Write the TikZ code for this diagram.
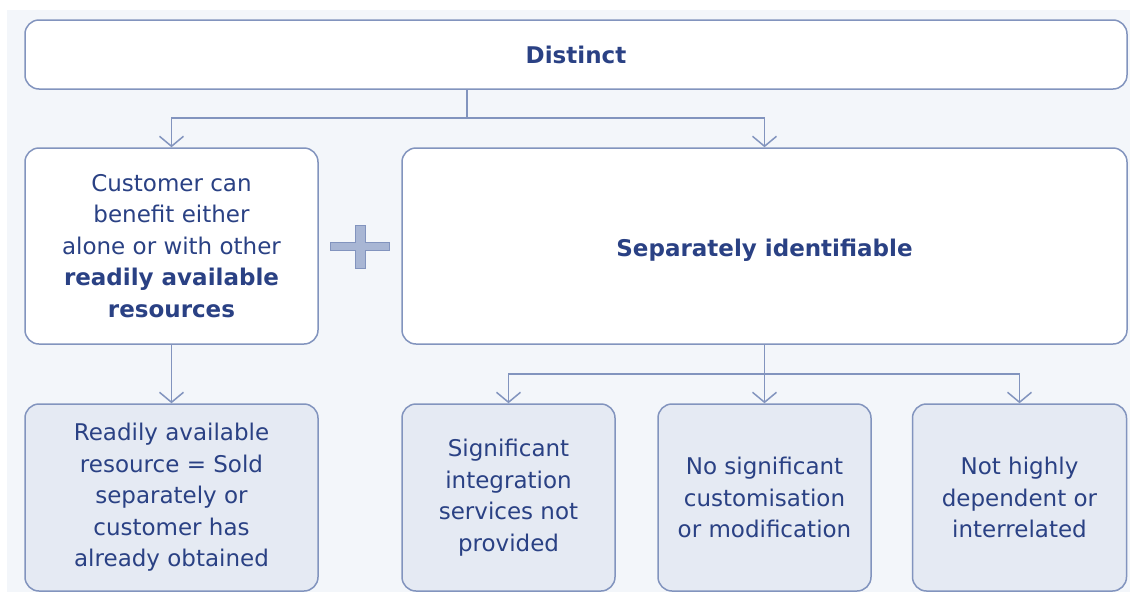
\documentclass[tikz,border=0pt]{standalone}
\usepackage{fontspec}
\setmainfont{DejaVu Sans}
\usetikzlibrary{arrows.meta}
\definecolor{bgpanel}{HTML}{F3F6FA}
\definecolor{edge}{HTML}{8294BE}
\definecolor{ink}{HTML}{2A4184}
\definecolor{soft}{HTML}{E5EAF3}
\definecolor{plusfill}{HTML}{A8B6D4}
\begin{document}
\begin{tikzpicture}[x=1pt,y=-1pt,
  box/.style={draw=edge, line width=1.5pt, rounded corners=14pt, align=center,
    text=ink, font=\fontsize{23}{31.5}\selectfont, inner sep=0pt},
  whitebox/.style={box, fill=white},
  softbox/.style={box, fill=soft},
  conn/.style={draw=edge, line width=1.5pt},
  arr/.style={conn, -{Straight Barb[length=10pt,width=24pt,line width=1.5pt]}},
  bigb/.style={font=\fontsize{23}{31.5}\selectfont\bfseries}
]
\useasboundingbox (0,0) rectangle (1138,592);
\fill[white] (0,0) rectangle (1138,592);
\fill[bgpanel] (7,10) rectangle (1130,592);

% top
\node[whitebox, bigb, minimum width=1102pt, minimum height=69pt] (top) at (576,54.5) {Distinct};

% middle row
\node[whitebox, minimum width=293pt, minimum height=196pt] (mid1) at (171.5,246)
  {Customer can\\benefit either\\alone or with other\\\textbf{readily available}\\\textbf{resources}};
\node[whitebox, bigb, minimum width=725pt, minimum height=196pt, text depth=0pt] (mid2) at (764.5,246) {\raisebox{-3pt}{Separately identifiable}};

% plus sign
\filldraw[fill=plusfill, draw=edge, line width=0.6pt]
  (355,225) -- (365,225) -- (365,242) -- (389,242) -- (389,250) -- (365,250) -- (365,268)
  -- (355,268) -- (355,250) -- (330,250) -- (330,242) -- (355,242) -- cycle;

% bottom row
\node[softbox, minimum width=293pt, minimum height=187pt] (bot1) at (171.5,497.5)
  {Readily available\\resource = Sold\\separately or\\customer has\\already obtained};
\node[softbox, minimum width=213pt, minimum height=187pt] (bot2) at (508.5,497.5)
  {Significant\\integration\\services not\\provided};
\node[softbox, minimum width=213pt, minimum height=187pt] (bot3) at (764.5,497.5)
  {No significant\\customisation\\or modification};
\node[softbox, minimum width=214pt, minimum height=187pt] (bot4) at (1019.5,497.5)
  {Not highly\\dependent or\\interrelated};

% connectors
\coordinate (j1) at (467,118);
\draw[conn] (top.south -| j1) -- (j1);
\draw[arr] (j1) -| (mid1.north);
\draw[arr] (j1) -| (mid2.north);
\draw[arr] (mid1.south) -- (bot1.north);
\coordinate (j2) at (764.5,374);
\draw[conn] (mid2.south) -- (j2);
\draw[arr] (j2) -| (bot2.north);
\draw[arr] (j2) -| (bot4.north);
\draw[arr] (j2) -- (bot3.north);
\end{tikzpicture}
\end{document}
